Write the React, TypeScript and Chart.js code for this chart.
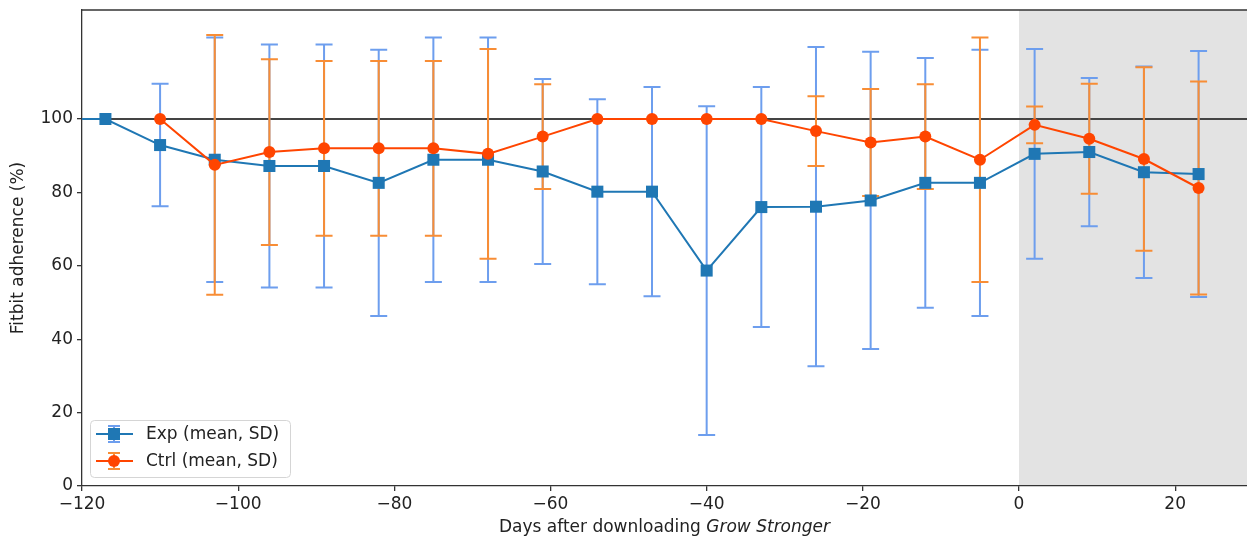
import React, { useEffect, useRef } from "react";
import { Chart, registerables } from "chart.js";

Chart.register(...registerables);

// ---- data ----
const expDays = [-124, -117, -110, -103, -96, -89, -82, -75, -68, -61, -54, -47, -40, -33, -26, -19, -12, -5, 2, 9, 16, 23];
const expMean = [100, 100, 92.9, 88.9, 87.2, 87.2, 82.6, 88.9, 88.9, 85.7, 80.2, 80.2, 58.7, 76.0, 76.1, 77.8, 82.6, 82.6, 90.5, 91.0, 85.5, 85.0];
const expSD = [0, 0, 16.7, 33.3, 33.1, 33.1, 36.3, 33.3, 33.3, 25.2, 25.2, 28.5, 44.8, 32.7, 43.5, 40.5, 34.0, 36.3, 28.6, 20.2, 28.8, 33.5];

const ctrlDays = [-110, -103, -96, -89, -82, -75, -68, -61, -54, -47, -40, -33, -26, -19, -12, -5, 2, 9, 16, 23];
const ctrlMean = [100, 87.5, 91.0, 92.0, 92.0, 92.0, 90.5, 95.2, 100, 100, 100, 100, 96.7, 93.6, 95.2, 88.9, 98.4, 94.6, 89.1, 81.2];
const ctrlSD = [0, 35.4, 25.3, 23.8, 23.8, 23.8, 28.6, 14.3, 0, 0, 0, 0, 9.5, 14.6, 14.3, 33.3, 5.0, 15.0, 25.0, 29.0];

const xTicks = [-120, -100, -80, -60, -40, -20, 0, 20];
const yTicks = [0, 20, 40, 60, 80, 100];
const referenceLevel = 100;
const shadeFrom = 0;

const seriesLabels = ["Exp (mean, SD)", "Ctrl (mean, SD)"];
const xTitleNormal = "Days after downloading ";
const xTitleItalic = "Grow Stronger";
const yTitle = "Fitbit adherence (%)";

const EXP_LINE = "#1f77b4";
const EXP_ERR = "#6d9eee";
const CTRL_LINE = "#ff4500";
const CTRL_ERR = "#f88d35";
const FONT = "DejaVu Sans";
const FS = 17;
const TEXT = "#222222";

const fmt = (v: number) => (v < 0 ? "\u2212" + Math.abs(v) : String(v));

function drawErr(ctx: CanvasRenderingContext2D, chart: any, xs: number[], ys: number[], sds: number[], color: string) {
  const xs_ = chart.scales.x;
  const ys_ = chart.scales.y;
  const a = chart.chartArea;
  ctx.save();
  ctx.beginPath();
  ctx.rect(a.left, a.top, a.right - a.left, a.bottom - a.top);
  ctx.clip();
  ctx.strokeStyle = color;
  ctx.lineWidth = 2;
  const cap = 8.5;
  for (let i = 0; i < xs.length; i++) {
    if (!(sds[i] > 0)) continue;
    const px = xs_.getPixelForValue(xs[i]);
    const t = ys_.getPixelForValue(ys[i] + sds[i]);
    const b = ys_.getPixelForValue(ys[i] - sds[i]);
    ctx.beginPath();
    ctx.moveTo(px, t);
    ctx.lineTo(px, b);
    ctx.moveTo(px - cap, t);
    ctx.lineTo(px + cap, t);
    ctx.moveTo(px - cap, b);
    ctx.lineTo(px + cap, b);
    ctx.stroke();
  }
  ctx.restore();
}

const customPlugin = {
  id: "custom",
  beforeDraw(chart: any) {
    const ctx = chart.ctx;
    const a = chart.chartArea;
    const x0 = chart.scales.x.getPixelForValue(shadeFrom);
    ctx.save();
    ctx.fillStyle = "#e3e3e3";
    ctx.fillRect(x0, a.top, a.right - x0, a.bottom - a.top);
    ctx.restore();
  },
  beforeDatasetsDraw(chart: any) {
    const ctx = chart.ctx;
    const a = chart.chartArea;
    const y = chart.scales.y.getPixelForValue(referenceLevel);
    ctx.save();
    ctx.strokeStyle = "#444444";
    ctx.lineWidth = 1.8;
    ctx.beginPath();
    ctx.moveTo(a.left, y);
    ctx.lineTo(a.right, y);
    ctx.stroke();
    // top spine
    ctx.strokeStyle = "#333333";
    ctx.lineWidth = 1.3;
    ctx.beginPath();
    ctx.moveTo(a.left, a.top);
    ctx.lineTo(a.right, a.top);
    ctx.stroke();
    ctx.restore();
    drawErr(ctx, chart, expDays, expMean, expSD, EXP_ERR);
    drawErr(ctx, chart, ctrlDays, ctrlMean, ctrlSD, CTRL_ERR);
  },
  afterDraw(chart: any) {
    const ctx = chart.ctx;
    const a = chart.chartArea;
    ctx.save();
    ctx.fillStyle = TEXT;
    // x title
    ctx.textBaseline = "middle";
    ctx.font = `${FS}px "${FONT}"`;
    const w1 = ctx.measureText(xTitleNormal).width;
    ctx.font = `italic ${FS}px "${FONT}"`;
    const w2 = ctx.measureText(xTitleItalic).width;
    const cx = (a.left + a.right) / 2;
    const sx = cx - (w1 + w2) / 2;
    ctx.textAlign = "left";
    ctx.font = `${FS}px "${FONT}"`;
    ctx.fillText(xTitleNormal, sx, 528);
    ctx.font = `italic ${FS}px "${FONT}"`;
    ctx.fillText(xTitleItalic, sx + w1, 528);
    // y title
    ctx.font = `${FS}px "${FONT}"`;
    ctx.translate(19, (a.top + a.bottom) / 2);
    ctx.rotate(-Math.PI / 2);
    ctx.textAlign = "center";
    ctx.fillText(yTitle, 0, 0);
    ctx.restore();

    // legend
    ctx.save();
    const lx = 90.5, ly = 420.5, lw = 200, lh = 57, r = 4;
    ctx.beginPath();
    ctx.moveTo(lx + r, ly);
    ctx.arcTo(lx + lw, ly, lx + lw, ly + lh, r);
    ctx.arcTo(lx + lw, ly + lh, lx, ly + lh, r);
    ctx.arcTo(lx, ly + lh, lx, ly, r);
    ctx.arcTo(lx, ly, lx + lw, ly, r);
    ctx.closePath();
    ctx.fillStyle = "rgba(255,255,255,0.8)";
    ctx.fill();
    ctx.strokeStyle = "#d5d5d5";
    ctx.lineWidth = 1;
    ctx.stroke();
    const rows = [
      { y: 434, line: EXP_LINE, err: EXP_ERR, shape: "rect", label: seriesLabels[0] },
      { y: 461, line: CTRL_LINE, err: CTRL_ERR, shape: "circle", label: seriesLabels[1] },
    ];
    for (const row of rows) {
      const mx = 114;
      ctx.strokeStyle = row.err;
      ctx.lineWidth = 2;
      ctx.beginPath();
      ctx.moveTo(mx, row.y - 8);
      ctx.lineTo(mx, row.y + 8);
      ctx.moveTo(mx - 6, row.y - 8);
      ctx.lineTo(mx + 6, row.y - 8);
      ctx.moveTo(mx - 6, row.y + 8);
      ctx.lineTo(mx + 6, row.y + 8);
      ctx.stroke();
      ctx.strokeStyle = row.line;
      ctx.beginPath();
      ctx.moveTo(96, row.y);
      ctx.lineTo(133, row.y);
      ctx.stroke();
      ctx.fillStyle = row.line;
      if (row.shape === "rect") {
        ctx.fillRect(mx - 6, row.y - 6, 12, 12);
      } else {
        ctx.beginPath();
        ctx.arc(mx, row.y, 6, 0, Math.PI * 2);
        ctx.fill();
      }
      ctx.fillStyle = TEXT;
      ctx.font = `${FS}px "${FONT}"`;
      ctx.textAlign = "left";
      ctx.textBaseline = "middle";
      ctx.fillText(row.label, 146, row.y + 1);
    }
    ctx.restore();
  },
};

export default function App() {
  const ref = useRef<HTMLCanvasElement | null>(null);
  useEffect(() => {
    if (!ref.current) return;
    const chart = new Chart(ref.current, {
      type: "line",
      data: {
        datasets: [
          {
            label: seriesLabels[0],
            data: expDays.map((d, i) => ({ x: d, y: expMean[i] })),
            borderColor: EXP_LINE,
            backgroundColor: EXP_LINE,
            borderWidth: 2,
            pointStyle: "rect",
            pointRadius: 8.5,
            pointBorderWidth: 0,
            pointHoverRadius: 8.5,
            tension: 0,
            order: 2,
          },
          {
            label: seriesLabels[1],
            data: ctrlDays.map((d, i) => ({ x: d, y: ctrlMean[i] })),
            borderColor: CTRL_LINE,
            backgroundColor: CTRL_LINE,
            borderWidth: 2,
            pointStyle: "circle",
            pointRadius: 6,
            pointBorderWidth: 0,
            pointHoverRadius: 6,
            tension: 0,
            order: 1,
          },
        ],
      },
      options: {
        responsive: false,
        animation: false,
        devicePixelRatio: 1,
        layout: { autoPadding: false, padding: { top: 10, right: 0, left: 0, bottom: 0 } },
        plugins: { legend: { display: false }, tooltip: { enabled: false } },
        scales: {
          x: {
            type: "linear",
            min: -120,
            max: 29.2,
            afterBuildTicks: (s: any) => {
              s.ticks = xTicks.map((v) => ({ value: v }));
            },
            afterFit: (s: any) => {
              s.height = 53;
              s.paddingLeft = 0;
              s.paddingRight = 0;
              s.paddingTop = 0;
              s.paddingBottom = 0;
            },
            grid: { display: true, drawOnChartArea: false, drawTicks: true, tickLength: 5, color: "#333333", lineWidth: 1.3 },
            border: { display: true, color: "#333333", width: 1.3 },
            ticks: {
              font: { family: FONT, size: FS },
              color: TEXT,
              padding: 3,
              maxRotation: 0,
              autoSkip: false,
              callback: (v: any) => fmt(Number(v)),
            },
          },
          y: {
            type: "linear",
            min: 0,
            max: 129.7,
            afterBuildTicks: (s: any) => {
              s.ticks = yTicks.map((v) => ({ value: v }));
            },
            afterFit: (s: any) => {
              s.width = 82;
              s.paddingLeft = 0;
              s.paddingRight = 0;
              s.paddingTop = 0;
              s.paddingBottom = 0;
            },
            grid: { display: true, drawOnChartArea: false, drawTicks: true, tickLength: 5, color: "#333333", lineWidth: 1.3 },
            border: { display: true, color: "#333333", width: 1.3 },
            ticks: {
              font: { family: FONT, size: FS },
              color: TEXT,
              padding: 4,
              autoSkip: false,
              callback: (v: any) => fmt(Number(v)),
            },
          },
        },
      },
      plugins: [customPlugin],
    });
    return () => chart.destroy();
  }, []);
  return (
    <div style={{ position: "absolute", left: 0, top: 0, width: 1247, height: 539 }}>
      <canvas ref={ref} width={1247} height={539} style={{ width: 1247, height: 539 }} />
    </div>
  );
}
